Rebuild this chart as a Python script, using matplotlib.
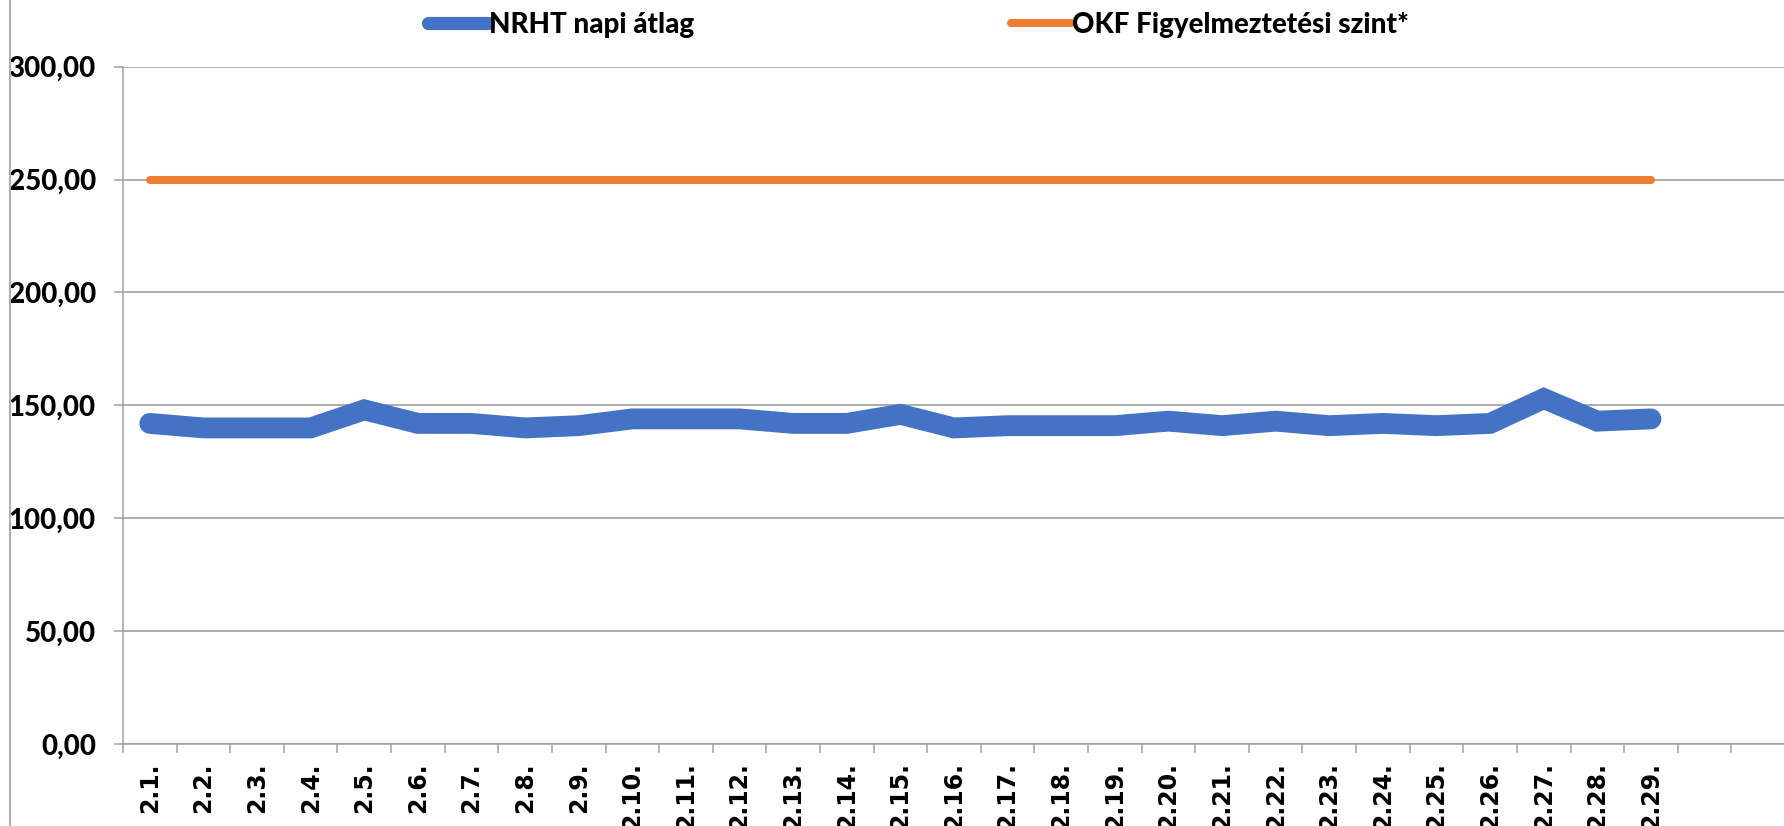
import matplotlib
matplotlib.use('Agg')
import matplotlib.pyplot as plt
from matplotlib.lines import Line2D
from matplotlib.ticker import FixedLocator

# --- data
days = ['2.1.', '2.2.', '2.3.', '2.4.', '2.5.', '2.6.', '2.7.', '2.8.', '2.9.', '2.10.',
        '2.11.', '2.12.', '2.13.', '2.14.', '2.15.', '2.16.', '2.17.', '2.18.', '2.19.', '2.20.',
        '2.21.', '2.22.', '2.23.', '2.24.', '2.25.', '2.26.', '2.27.', '2.28.', '2.29.']
empty_days = ['', '']
nrht_daily = [142, 140, 140, 140, 148, 142, 142, 140, 141, 144,
              144, 144, 142, 142, 146, 140, 141, 141, 141, 143,
              141, 143, 141, 142, 141, 142, 153, 143, 144]
okf_level = [250] * len(days)
y_ticks = [0, 50, 100, 150, 200, 250, 300]

labels = ['NRHT napi átlag', 'OKF Figyelmeztetési szint*']
BLUE = '#4472C4'
ORANGE = '#ED7D31'
GRID = '#a0a0a0'

W, H = 1784, 826
fig = plt.figure(figsize=(W / 100, H / 100), dpi=100)
ax = fig.add_axes([123 / W, 1 - 744 / H, 1662 / W, (744 - 66.7) / H])

all_days = days + empty_days
x = list(range(len(days)))

l1, = ax.plot(x, nrht_daily, color=BLUE, lw=15, solid_capstyle='round',
              solid_joinstyle='miter', zorder=3)
l2, = ax.plot(x, okf_level, color=ORANGE, lw=5.8, solid_capstyle='round', zorder=3)

ax.set_xlim(-0.5, len(all_days) - 0.5)
ax.set_ylim(0, 300)
ax.set_yticks(y_ticks)
ax.set_yticklabels([f'{v:.2f}'.replace('.', ',') for v in y_ticks],
                   family=['Lato', 'DejaVu Sans'], fontweight=900, fontsize=20)
ax.yaxis.grid(True, color=GRID, lw=1.2)
ax.tick_params(axis='y', length=6.5, width=1.1, color=GRID, pad=13)

# category boundaries get the tick marks, centres get the labels
ax.xaxis.set_major_locator(FixedLocator([i - 0.5 for i in range(len(all_days) + 1)]))
ax.xaxis.set_minor_locator(FixedLocator(range(len(all_days))))
ax.set_xticklabels([''] * (len(all_days) + 1))
ax.set_xticklabels(all_days, minor=True, rotation=90, fontweight='bold', fontsize=17,
                   family='DejaVu Sans', va='top', ha='center')
ax.tick_params(axis='x', which='major', length=6.5, width=1.1, color=GRID)
ax.tick_params(axis='x', which='minor', length=0, pad=13)

for s in ['top', 'right']:
    ax.spines[s].set_visible(False)
for s in ['left', 'bottom']:
    ax.spines[s].set_color(GRID)
    ax.spines[s].set_linewidth(1.1)
ax.set_axisbelow(True)

# outer chart border on the left
fig.add_artist(Line2D([10 / W, 10 / W], [0, 1], color='#b0b0b0', lw=1.5))

# two legend entries placed separately at the top
leg_font = {'family': ['Lato', 'DejaVu Sans'], 'weight': 900, 'size': 20}
for line, label, x0, hw in [(l1, labels[0], 428, 9.5), (l2, labels[1], 1011, 5.8)]:
    leg = fig.legend([line], [label], loc='center left', bbox_to_anchor=(x0 / W, 1 - 25 / H),
                     frameon=False, prop=leg_font, handlelength=2.15, handletextpad=0.05,
                     borderpad=0, borderaxespad=0)
    leg.get_lines()[0].set_linewidth(hw)

fig.savefig('out.png', dpi=100)
